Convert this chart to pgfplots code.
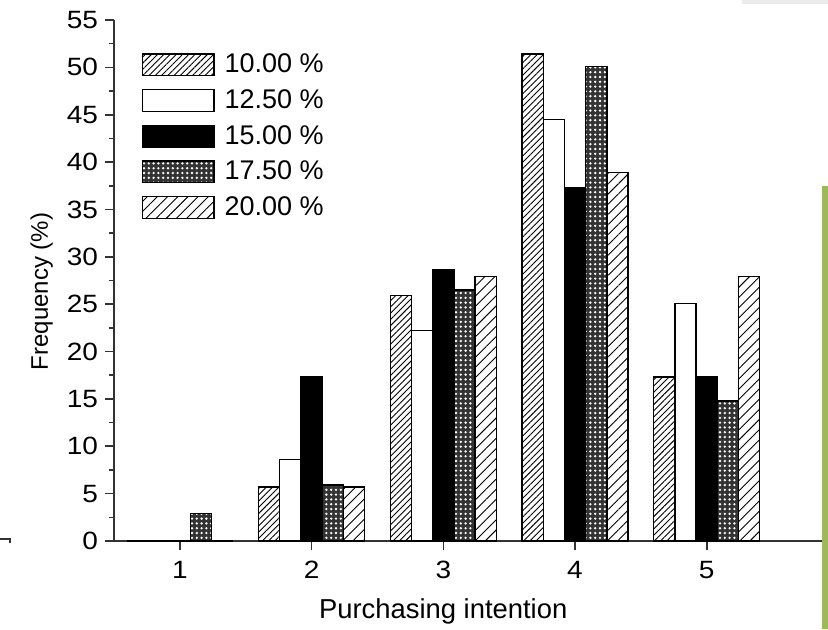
\documentclass[border=0pt]{standalone}
\usepackage{pgfplots}
\pgfplotsset{compat=1.18}
\usepackage{graphicx}
\usepackage{fontspec}
\setmainfont{Liberation Sans}
\usetikzlibrary{patterns,patterns.meta}
\definecolor{sidegreen}{HTML}{9BBB59}
\definecolor{topgray}{HTML}{EBEBEB}
\begin{document}
\begin{tikzpicture}
\path[use as bounding box] (-57pt,-44pt) rectangle (357pt,270.5pt);
\fill[sidegreen] (354pt,-44pt) rectangle (357pt,177.5pt);
\fill[topgray] (314pt,268.5pt) rectangle (357pt,270.5pt);
\begin{axis}[
  at={(0,0)}, anchor=south west,
  scale only axis, width=354pt, height=260.5pt,
  xmin=0.5, xmax=5.875, ymin=0, ymax=55,
  axis lines*=left,
  axis line style={line width=1.1pt, black!80},
  ybar=0pt, bar width=0.161,
  xtick={1,2,3,4,5},
  ytick={0,5,...,55},
  minor y tick num=1,
  tick style={line width=0.8pt, black!80},
  tick align=outside,
  major tick length=4.5pt, minor tick length=2.5pt,
  xticklabel={\scalebox{1.12}[1]{\pgfmathprintnumber[assume math mode=true]{\tick}}},
  yticklabel={\scalebox{1.12}[1]{\pgfmathprintnumber[assume math mode=true]{\tick}}},
  tick label style={font=\fontsize{12.5}{14}\selectfont},
  xticklabel style={yshift=-2pt},
  yticklabel style={xshift=0pt},
  xlabel={Purchasing intention},
  ylabel={Frequency (\%)},
  xlabel style={font=\fontsize{13.7}{15}\selectfont, at={(axis description cs:0.465,-0.135)}, anchor=center},
  ylabel style={font=\fontsize{12}{14}\selectfont, at={(axis description cs:-0.102,0.479)}, anchor=center},
  legend style={at={(rel axis cs:0.039,0.9367)}, anchor=north west, draw=none, fill=none,
    font=\fontsize{13.5}{15}\selectfont, row sep=6.3pt, column sep=5pt, inner sep=0pt,
    nodes={inner sep=0pt, text height=9.5pt, text depth=1.5pt}},
  legend cell align=left,
  legend image code/.code={\draw[#1, line width=0.7pt] (0cm,-0.19cm) rectangle (1.25cm,0.19cm);},
  every axis plot/.append style={draw=black, line width=0.7pt},
]
\addplot[bar shift=-0.322, pattern={Lines[angle=45,distance=2.2pt,line width=0.45pt]}] coordinates {(1,0) (2,5.7) (3,25.9) (4,51.4) (5,17.3)};
\addplot[bar shift=-0.161, fill=white] coordinates {(1,0) (2,8.6) (3,22.2) (4,44.5) (5,25.1)};
\addplot[bar shift=0, fill=black] coordinates {(1,0) (2,17.3) (3,28.6) (4,37.3) (5,17.3)};
\addplot[bar shift=0.161, fill=black!80, postaction={pattern={Dots[distance=2.4pt,radius=0.65pt]}, pattern color=white}] coordinates {(1,2.9) (2,5.9) (3,26.5) (4,50.1) (5,14.8)};
\addplot[bar shift=0.322, pattern={Lines[angle=45,distance=3.6pt,line width=0.45pt]}] coordinates {(1,0) (2,5.7) (3,27.9) (4,38.9) (5,27.9)};
\legend{10.00 \%,12.50 \%,15.00 \%,17.50 \%,20.00 \%}
\end{axis}
\draw[black!80, line width=0.8pt] (-57pt,1pt) -- (-52pt,1pt) -- (-52pt,-1pt);
\end{tikzpicture}
\end{document}
